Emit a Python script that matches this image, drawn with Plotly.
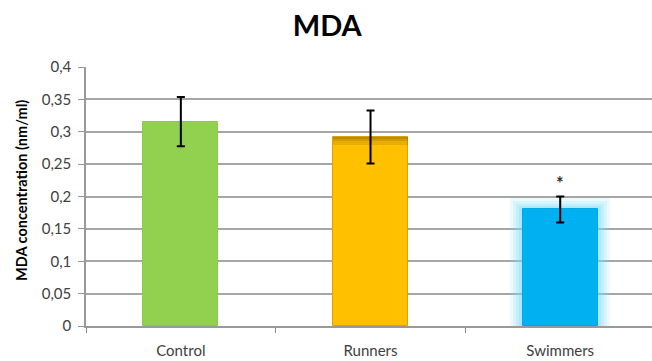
import plotly.graph_objects as go

categories = ["Control", "Runners", "Swimmers"]
values = [0.3155, 0.292, 0.180]
errors = [0.038, 0.041, 0.020]
significance = ["", "", "*"]
colors = ["#92D050", "#FFC000", "#00B0F0"]
y_tickvals = [0, 0.05, 0.1, 0.15, 0.2, 0.25, 0.3, 0.35, 0.4]

FONT = "Lato"
BAR_W = 0.395
fig = go.Figure()

# soft glow behind the Swimmers bar
glow = [(0.13, 0.017, 0.14), (0.10, 0.013, 0.18), (0.07, 0.009, 0.22), (0.04, 0.005, 0.28)]
for extra_w, extra_h, a in glow:
    fig.add_trace(go.Bar(x=[categories[2]], y=[values[2] + extra_h], width=BAR_W + extra_w,
                         marker=dict(color=f"rgba(120,220,250,{a})", line=dict(width=0)),
                         hoverinfo="skip", showlegend=False))

fig.add_trace(go.Bar(
    x=categories, y=values, width=BAR_W,
    marker=dict(color=colors, line=dict(color=["#8cc84a", "#d9a400", "#00a8e6"], width=1)),
    showlegend=False,
))

# darker bevel (gradient) at the top of the Runners bar
for depth, a in [(0.012, 0.18), (0.007, 0.22), (0.003, 0.25)]:
    fig.add_trace(go.Bar(x=[categories[1]], y=[depth], base=[values[1] - depth], width=BAR_W,
                         marker=dict(color=f"rgba(130,90,0,{a})", line=dict(width=0)),
                         hoverinfo="skip", showlegend=False))

# error bars on top
fig.add_trace(go.Scatter(
    x=categories, y=values, mode="markers", marker=dict(size=0.1, color="rgba(0,0,0,0)"),
    error_y=dict(type="data", array=errors, visible=True, color="black", thickness=2, width=4),
    hoverinfo="skip", showlegend=False,
))

for c, v, e, s in zip(categories, values, errors, significance):
    if s:
        fig.add_annotation(x=c, y=v + e, text="<b>" + s + "</b>", showarrow=False, yshift=14,
                           font=dict(family=FONT, size=18, color="#333333"))

fig.add_annotation(xref="paper", yref="paper", x=-0.115, y=0.525, xanchor="center", yanchor="middle",
                   text="<b>MDA concentration (nm/ml)</b>", textangle=-90, showarrow=False,
                   font=dict(family=FONT, size=14.5, color="#000000"))

fig.update_layout(
    width=652, height=361,
    margin=dict(l=86, r=0, t=67, b=35),
    paper_bgcolor="white", plot_bgcolor="white",
    barmode="overlay",
    title=dict(text="<b>MDA</b>", x=0.502, xanchor="center", y=0.928, yanchor="middle",
               font=dict(family=FONT, size=29, color="#000000")),
    font=dict(family=FONT, size=15, color="#404040"),
    bargap=0,
)
fig.update_xaxes(
    type="category", categoryorder="array", categoryarray=categories,
    range=[-0.5, 2.484], tickson="boundaries",
    ticks="outside", ticklen=5, tickcolor="#888888", tickwidth=1,
    showline=True, linecolor="#999999", linewidth=2,
    showgrid=False, ticklabelstandoff=10, automargin=False,
    tickfont=dict(family=FONT, size=15, color="#404040"),
)
fig.update_yaxes(
    range=[0, 0.4], tickvals=y_tickvals,
    ticktext=[("%g" % v).replace(".", ",") for v in y_tickvals],
    ticks="outside", ticklen=6, tickcolor="#999999", tickwidth=1,
    showline=True, linecolor="#999999", linewidth=1.5, automargin=False,
    showgrid=True, gridcolor="#a6a6a6", gridwidth=1.6, zeroline=False,
    ticklabelstandoff=4,
    tickfont=dict(family=FONT, size=15, color="#404040"),
)

fig.write_html("out.html", config={"displayModeBar": False},
               post_script="document.body.style.margin='0px';")
